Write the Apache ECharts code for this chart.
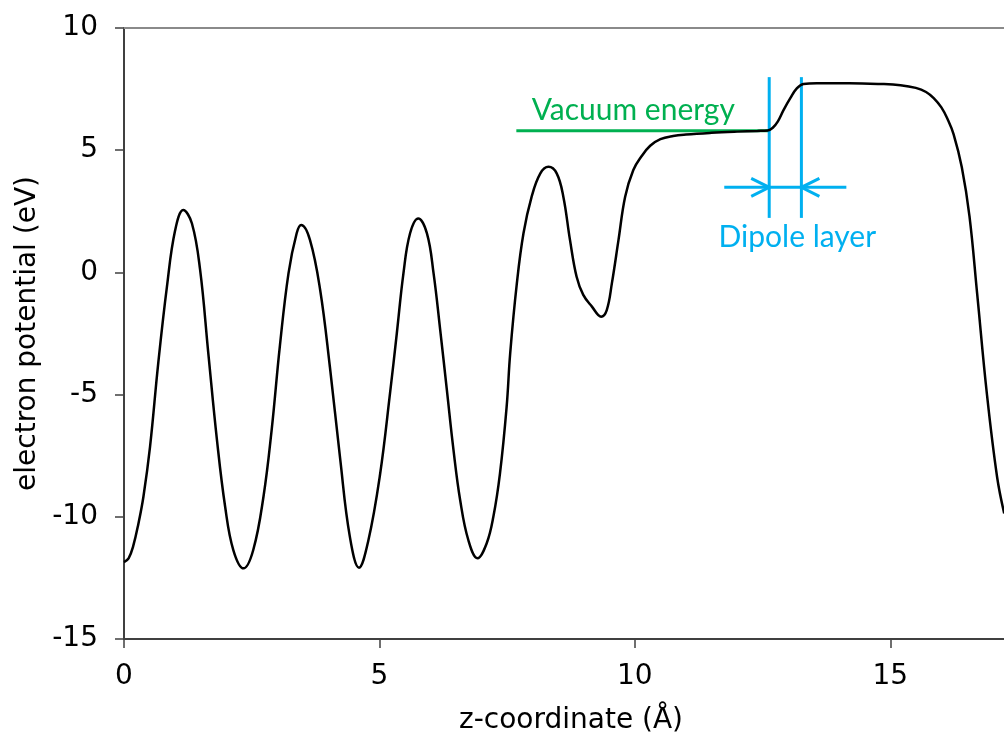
<!DOCTYPE html>
<html><head><meta charset="utf-8">
<script src="https://cdn.jsdelivr.net/npm/echarts@6/dist/echarts.min.js"></script>
<style>html,body{margin:0;padding:0;background:#fff}#c{width:1004px;height:740px}</style>
</head><body><div id="c"></div>
<script>
// electron potential profile
const zCoord = [0.00,0.09,0.18,0.28,0.38,0.51,0.67,0.84,1.00,1.16,1.33,1.49,1.65,1.82,1.98,2.14,2.34,2.53,2.73,2.89,3.05,3.22,3.38,3.47,3.64,3.84,4.03,4.23,4.42,4.60,4.78,5.01,5.21,5.34,5.47,5.60,5.76,5.93,6.06,6.19,6.32,6.45,6.58,6.74,6.92,7.10,7.23,7.36,7.49,7.56,7.69,7.82,7.98,8.15,8.31,8.47,8.60,8.73,8.86,8.99,9.16,9.34,9.45,9.55,9.68,9.81,9.97,10.13,10.30,10.50,10.75,11.00,11.50,12.00,12.40,12.60,12.70,12.80,12.91,13.04,13.17,13.30,13.56,14.20,14.80,15.20,15.50,15.70,15.85,16.00,16.12,16.24,16.40,16.55,16.70,16.89,17.09,17.23];
const potential = [-11.85,-11.70,-11.20,-10.30,-9.18,-7.13,-3.72,-0.59,1.71,2.55,2.00,0.10,-3.30,-6.86,-9.59,-11.36,-12.11,-11.36,-9.18,-6.45,-3.04,-0.04,1.60,1.94,1.33,-0.72,-3.86,-7.60,-10.80,-12.08,-11.00,-8.30,-4.90,-2.50,-0.04,1.60,2.21,1.60,-0.04,-2.36,-4.81,-7.27,-9.31,-10.95,-11.70,-11.08,-10.00,-8.22,-5.50,-3.30,-0.45,1.60,3.10,4.05,4.32,4.05,3.10,1.33,-0.18,-0.92,-1.40,-1.81,-1.54,-0.45,1.33,3.10,4.19,4.75,5.18,5.45,5.58,5.64,5.71,5.76,5.79,5.81,5.92,6.18,6.64,7.12,7.53,7.71,7.74,7.74,7.71,7.66,7.55,7.38,7.13,6.75,6.28,5.65,4.30,2.30,-0.86,-4.95,-8.36,-9.86];

// annotations (data coordinates)
const vacuumLevel = 5.8;
const vacuumSpan = [7.68, 12.63];
const vacuumLabel = 'Vacuum energy';
const vacuumLabelPos = [9.97, 6.62];
const dipoleEdges = [12.63, 13.26];
const dipoleSpanY = [2.23, 7.99];
const arrowY = 3.48;
const arrowSpan = [11.75, 14.14];
const dipoleLabel = 'Dipole layer';
const dipoleLabelPos = [13.18, 1.45];

// axes
const xTitle = 'z-coordinate (Å)';
const yTitle = 'electron potential (eV)';
const xRange = [0, 17.5];
const yRange = [-15, 10];

const GREEN = '#00B050', BLUE = '#00B0F0';
const FONT = 'DejaVu Sans';
const chart = echarts.init(document.getElementById('c'), null, {renderer: 'canvas'});
const lineData = zCoord.map((x, i) => [x, potential[i]]);

chart.setOption({
  animation: false,
  backgroundColor: '#fff',
  grid: {left: 124, top: 28, width: 894, height: 611, containLabel: false, outerBoundsMode: 'none'},
  xAxis: [{
    type: 'value', min: xRange[0], max: xRange[1], interval: 5,
    name: xTitle, nameLocation: 'middle', nameGap: 68,
    nameTextStyle: {fontFamily: FONT, fontSize: 28, color: '#000'},
    axisLine: {onZero: false, lineStyle: {color: '#404040', width: 2}},
    axisTick: {length: 9, lineStyle: {color: '#404040', width: 1.5}},
    axisLabel: {showMaxLabel: false, margin: 24, fontFamily: FONT, fontSize: 28, color: '#000'},
    splitLine: {show: false}
  }, {
    type: 'value', position: 'top', min: xRange[0], max: xRange[1],
    axisLine: {show: true, onZero: false, lineStyle: {color: '#8a8a8a', width: 2}},
    axisTick: {show: false}, axisLabel: {show: false}, splitLine: {show: false}
  }],
  yAxis: {
    type: 'value', min: yRange[0], max: yRange[1], interval: 5,
    name: yTitle, nameLocation: 'middle', nameGap: 80, nameRotate: 90,
    nameTextStyle: {fontFamily: FONT, fontSize: 28, color: '#000'},
    axisLine: {show: true, onZero: false, lineStyle: {color: '#404040', width: 2}},
    axisTick: {show: true, length: 9, lineStyle: {color: '#404040', width: 1.5}},
    axisLabel: {margin: 26, fontFamily: FONT, fontSize: 28, color: '#000'},
    splitLine: {show: false}
  },
  series: [{
    type: 'line', data: lineData, showSymbol: false, smooth: 0.4,
    lineStyle: {color: '#000', width: 2.5}, clip: true, silent: true
  }, {
    type: 'custom', silent: true, clip: false, data: [0],
    renderItem: (params, api) => {
      const ch = [];
      const ln = (a, b, color) => ch.push({type: 'line', shape: {x1: a[0], y1: a[1], x2: b[0], y2: b[1]}, style: {stroke: color, lineWidth: 3}});
      ln(api.coord([vacuumSpan[0], vacuumLevel]), api.coord([vacuumSpan[1], vacuumLevel]), GREEN);
      dipoleEdges.forEach(x => ln(api.coord([x, dipoleSpanY[0]]), api.coord([x, dipoleSpanY[1]]), BLUE));
      ln(api.coord([arrowSpan[0], arrowY]), api.coord([arrowSpan[1], arrowY]), BLUE);
      const tl = api.coord([dipoleEdges[0], arrowY]);
      const tr = api.coord([dipoleEdges[1], arrowY]);
      ch.push({type: 'polyline', shape: {points: [[tl[0] - 18, tl[1] - 9], tl, [tl[0] - 18, tl[1] + 9]]}, style: {stroke: BLUE, lineWidth: 3, fill: null}});
      ch.push({type: 'polyline', shape: {points: [[tr[0] + 18, tr[1] - 9], tr, [tr[0] + 18, tr[1] + 9]]}, style: {stroke: BLUE, lineWidth: 3, fill: null}});
      const vp = api.coord(vacuumLabelPos), dp = api.coord(dipoleLabelPos);
      ch.push({type: 'text', x: vp[0], y: vp[1], style: {text: vacuumLabel, fill: GREEN, font: '30px Lato', align: 'center', verticalAlign: 'middle'}});
      ch.push({type: 'text', x: dp[0], y: dp[1], style: {text: dipoleLabel, fill: BLUE, font: '30px Lato', align: 'center', verticalAlign: 'middle'}});
      return {type: 'group', children: ch};
    }
  }]
});
</script>
</body></html>
